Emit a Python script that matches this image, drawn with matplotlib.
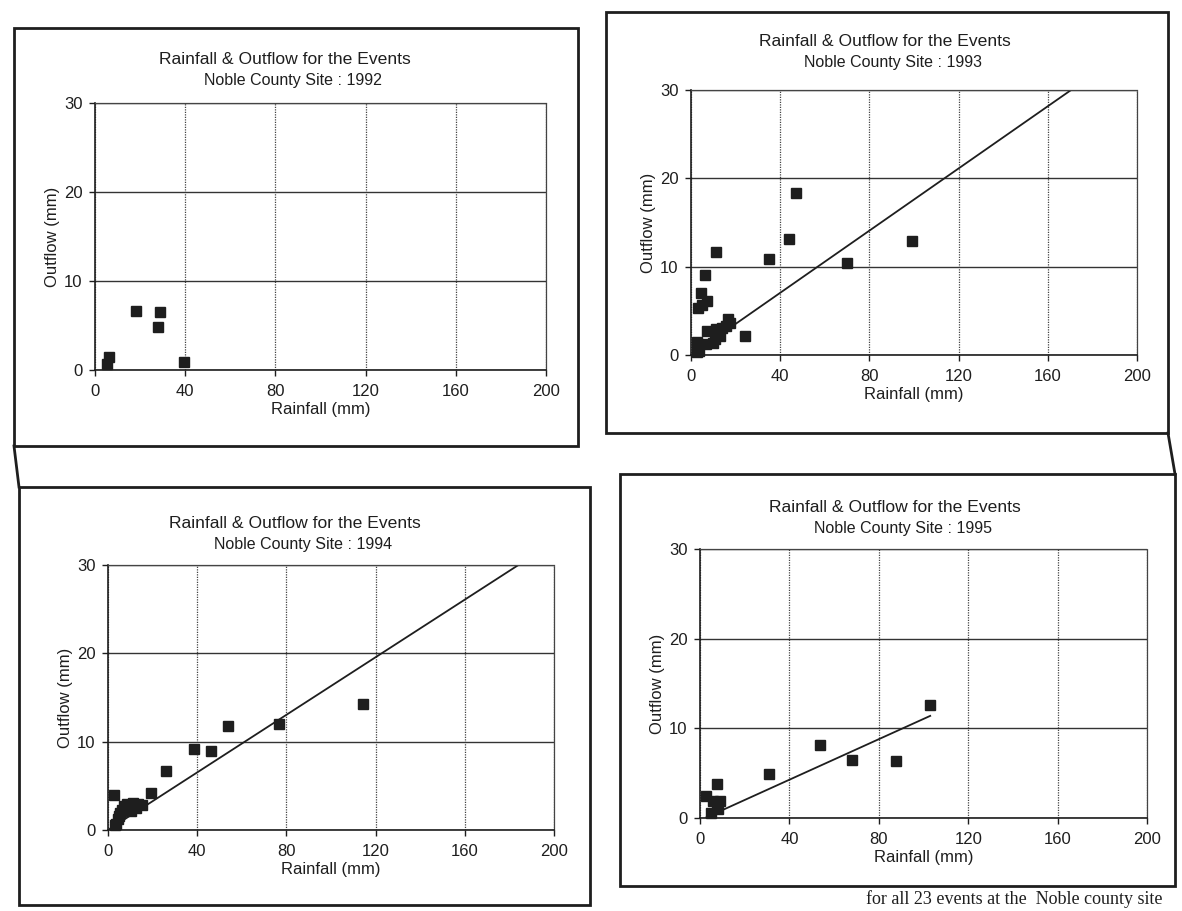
import matplotlib
matplotlib.use("Agg")
import matplotlib.pyplot as plt
from matplotlib.patches import Rectangle
from matplotlib.lines import Line2D
import numpy as np

plt.rcParams['font.family'] = ['Liberation Sans', 'DejaVu Sans']

W, H = 1182, 911

# Event rainfall (mm) and outflow (mm) per year
rain_1992 = [5.5, 6.0, 18.0, 28.0, 29.0, 39.5]
out_1992 = [0.7, 1.5, 6.6, 4.8, 6.5, 0.9]

rain_1993 = [2.6, 3.5, 2.5, 6.8, 9.9, 10.7, 7.1, 11.4, 12.9, 13.7, 15.7, 16.7,
             17.5, 24.2, 3.0, 5.0, 4.6, 7.1, 6.5, 11.0, 35.0, 44.0, 47.0, 70.0, 99.0]
out_1993 = [0.3, 0.5, 1.5, 1.3, 1.4, 1.8, 2.7, 3.0, 2.1, 3.1, 3.3, 4.1,
            3.6, 2.2, 5.3, 5.7, 7.0, 6.1, 9.1, 11.7, 10.9, 13.1, 18.3, 10.4, 12.9]

rain_1994 = [3.1, 3.7, 4.6, 4.9, 5.6, 6.4, 7.2, 8.7, 10.2, 11.0, 12.5, 13.3,
             15.3, 2.6, 19.5, 26.2, 38.4, 46.0, 54.0, 76.5, 114.5]
out_1994 = [0.6, 0.7, 1.2, 1.6, 1.9, 2.3, 2.7, 3.0, 2.1, 3.1, 2.5, 3.0,
            2.8, 4.0, 4.2, 6.7, 9.2, 9.0, 11.8, 12.0, 14.3]

rain_1995 = [2.9, 4.7, 6.0, 7.7, 8.2, 9.1, 7.8, 30.7, 53.5, 68.0, 87.5, 103.0]
out_1995 = [2.4, 0.55, 1.9, 1.45, 1.0, 1.9, 3.8, 4.9, 8.1, 6.5, 6.4, 12.6]

# Linear fits: (slope, intercept, x_start, x_end); None where no fit is drawn
fit_1992 = None
fit_1993 = (0.176, 0.0, 0.0, 200.0)
fit_1994 = (0.163, 0.0, 0.0, 200.0)
fit_1995 = (0.113, -0.25, 2.9, 103.0)

years = ['1992', '1993', '1994', '1995']
x_ticks = [0, 40, 80, 120, 160, 200]
y_ticks = [0, 10, 20, 30]

title_text = 'Rainfall & Outflow for the Events'
subtitle_text = 'Noble County Site : {}'
xlabel_text = 'Rainfall (mm)'
ylabel_text = 'Outflow (mm)'
caption_text = 'for all 23 events at the  Noble county site'

# panel layout in pixels: plot area (l, t, r, b), frame box (l, t, r, b), title centre (x, y)
panels = [
    dict(plot=(95, 103, 546, 370), box=(14, 28, 578, 446), title=(285, 60),
         rain=rain_1992, out=out_1992, fit=fit_1992, year=years[0]),
    dict(plot=(691, 90, 1137, 355), box=(606, 12, 1168, 433), title=(885, 42),
         rain=rain_1993, out=out_1993, fit=fit_1993, year=years[1]),
    dict(plot=(108, 565, 554, 830), box=(19, 487, 590, 905), title=(295, 523),
         rain=rain_1994, out=out_1994, fit=fit_1994, year=years[2]),
    dict(plot=(700, 549, 1147, 818), box=(620, 474, 1175, 886), title=(895, 508),
         rain=rain_1995, out=out_1995, fit=fit_1995, year=years[3]),
]

ink = '#1e1e1e'

fig = plt.figure(figsize=(W / 100, H / 100), dpi=100)
fig.patch.set_facecolor('white')


def fx(x):
    return x / W


def fy(y):
    return 1 - y / H


for p in panels:
    bl, bt, br, bb = p['box']
    fig.add_artist(Rectangle((fx(bl), fy(bb)), fx(br) - fx(bl), fy(bt) - fy(bb),
                             transform=fig.transFigure, fill=False,
                             edgecolor=ink, linewidth=2.0))

    tx, ty = p['title']
    fig.text(fx(tx), fy(ty), title_text, ha='center', va='center',
             fontsize=12.6, color=ink)
    fig.text(fx(tx + 8), fy(ty + 21), subtitle_text.format(p['year']),
             ha='center', va='center', fontsize=11.5, color=ink)

    l, t, r, b = p['plot']
    ax = fig.add_axes([fx(l), fy(b), fx(r) - fx(l), fy(t) - fy(b)])
    ax.set_xlim(0, 200)
    ax.set_ylim(0, 30)
    ax.set_xticks(x_ticks)
    ax.set_yticks(y_ticks)
    ax.tick_params(axis='both', direction='out', length=4, width=1.0,
                   colors=ink, labelsize=12, pad=5)
    ax.tick_params(axis='x', pad=6)
    for side in ['left', 'bottom']:
        ax.spines[side].set_color(ink)
        ax.spines[side].set_linewidth(1.2)
    for side in ['top', 'right']:
        ax.spines[side].set_color('#444444')
        ax.spines[side].set_linewidth(0.9)
        ax.spines[side].set_linestyle((0, (1, 1)))
    ax.grid(axis='y', color='#333333', linewidth=1.0, linestyle='-')
    ax.grid(axis='x', color='#444444', linewidth=0.9, linestyle=(0, (1, 1)))
    ax.set_axisbelow(True)

    ax.set_xlabel(xlabel_text, fontsize=12, color=ink, labelpad=2)
    ax.set_ylabel(ylabel_text, fontsize=12, color=ink, labelpad=3)

    ax.plot(p['rain'], p['out'], linestyle='none', marker='s', markersize=6.5,
            color=ink, zorder=3, clip_on=False)

    if p['fit'] is not None:
        slope, icpt, x0, x1 = p['fit']
        xs = np.array([x0, x1])
        ax.plot(xs, slope * xs + icpt, color=ink, linewidth=1.3, zorder=2)

# table rulings joining the rows on the outer edges
fig.add_artist(Line2D([fx(14), fx(19)], [fy(446), fy(487)],
                      transform=fig.transFigure, color=ink, linewidth=2.0))
fig.add_artist(Line2D([fx(1168), fx(1175)], [fy(433), fy(474)],
                      transform=fig.transFigure, color=ink, linewidth=2.0))

# caption line at the foot of the page
fig.text(fx(1162), fy(904), caption_text,
         ha='right', va='baseline', fontsize=13, color=ink,
         family=['Liberation Serif', 'DejaVu Serif'])

fig.savefig('out.png', dpi=100, facecolor='white')
